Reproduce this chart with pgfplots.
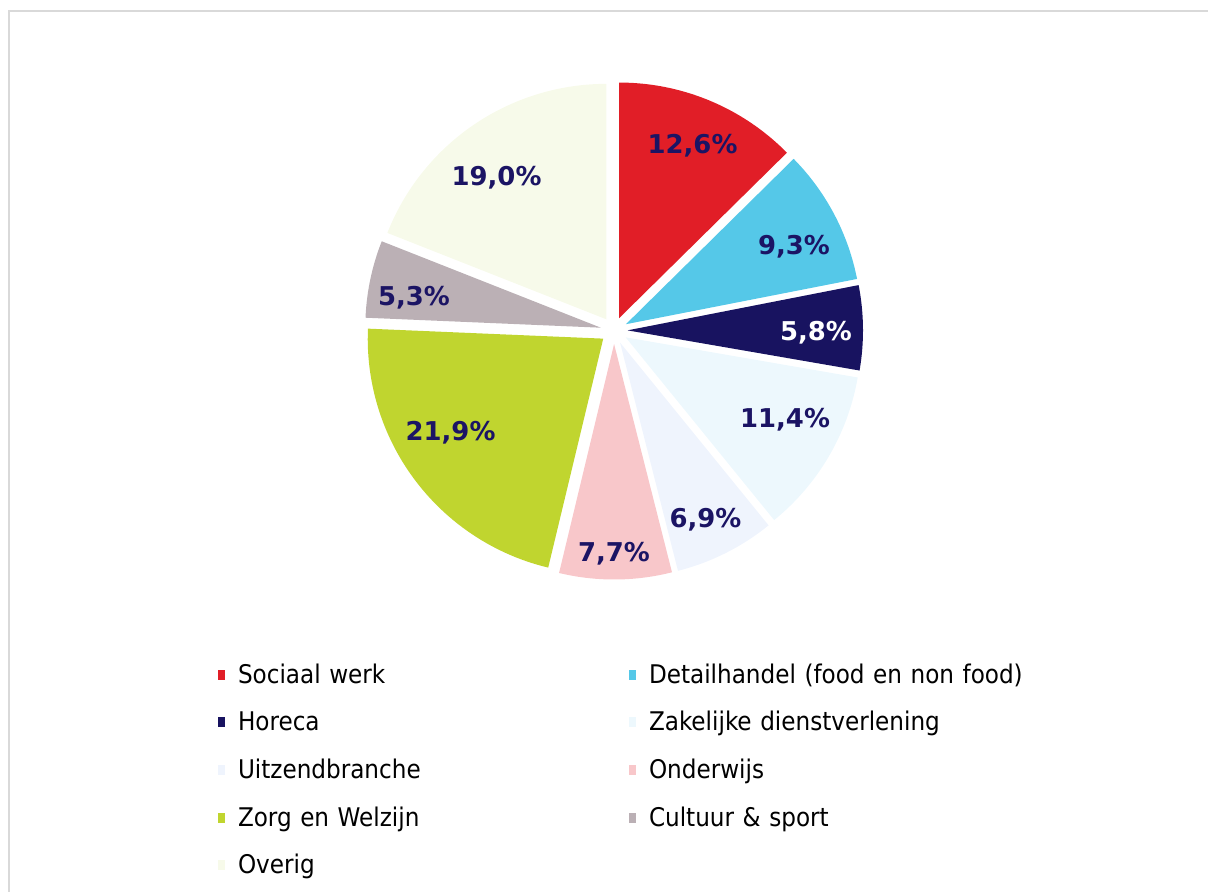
\documentclass[border=0pt]{standalone}
\usepackage{fontspec}
\setmainfont{DejaVu Sans}
\newfontfamily\condfont{DejaVu Sans Condensed}
\usepackage{pgfplots}
\pgfplotsset{compat=1.18}

\definecolor{cSoc}{HTML}{E11E27}
\definecolor{cDet}{HTML}{55C8E8}
\definecolor{cHor}{HTML}{181360}
\definecolor{cZak}{HTML}{EDF8FD}
\definecolor{cUit}{HTML}{EFF4FD}
\definecolor{cOnd}{HTML}{F8C7CA}
\definecolor{cZor}{HTML}{C0D52F}
\definecolor{cCul}{HTML}{BBB0B5}
\definecolor{cOve}{HTML}{F7FAEA}
\definecolor{cTxt}{HTML}{1B1464}
\definecolor{cFrame}{HTML}{D9D9D9}

\def\cx{614}
\def\cy{330.5}
\def\R{235.5}
\def\ex{13.5}
\def\k{3.6036036}

% #1 = start (percent), #2 = value (percent), #3 = colour
\newcommand\slice[3]{%
  \pgfmathsetmacro\dA{#1-#2/58}%
  \pgfmathsetmacro\dB{#1+#2}%
  \pgfmathsetmacro\th{#1-#2/116}%
  \pgfmathsetmacro\vx{\cx+\ex*sin(\k*(#1+#2/2))}%
  \pgfmathsetmacro\vy{\cy-\ex*cos(\k*(#1+#2/2))}%
  \addplot[fill=#3, draw=none, forget plot, domain=\dA:\dB, samples=60, variable=\t]
    ({\vx + ((\t < \th) ? 0 : \R*sin(\k*\t))},
     {\vy - ((\t < \th) ? 0 : \R*cos(\k*\t))});
}

\pgfplotsset{
  sqleg/.style={legend image code/.code={\fill[##1, draw=none] (0bp,-3bp) rectangle (7bp,7bp);}},
}

\begin{document}
\begin{tikzpicture}
\useasboundingbox (0,0) rectangle (1208bp,892bp);
\begin{axis}[
  at={(0,0)}, anchor=south west,
  width=1208bp, height=892bp, scale only axis,
  xmin=0, xmax=1208, ymin=0, ymax=892, y dir=reverse,
  hide axis, clip=false,
  legend columns=2,
  legend cell align=left,
  legend style={
    at={(axis cs:218,664)}, anchor=north west,
    draw=none, fill=none, inner sep=0pt, outer sep=0pt,
    font=\condfont\fontsize{25.8}{30}\selectfont,
    nodes={inner sep=0pt, outer sep=0pt, text width=380bp, align=left,
           text height=19bp, text depth=6bp},
    row sep=22.7bp,
    /tikz/every odd column/.append style={column sep=13bp},
    /tikz/every even column/.append style={column sep=11bp},
  },
]
% frame
\draw[cFrame, line width=2bp] (axis cs:8.5,892) -- (axis cs:8.5,11) -- (axis cs:1210,11);

% slices: start, value, colour
\slice{0}{12.6}{cSoc}
\slice{12.6}{9.3}{cDet}
\slice{21.9}{5.8}{cHor}
\slice{27.7}{11.4}{cZak}
\slice{39.1}{6.9}{cUit}
\slice{46.0}{7.7}{cOnd}
\slice{53.7}{21.9}{cZor}
\slice{75.6}{5.3}{cCul}
\slice{80.9}{19.0}{cOve}

% labels
\begin{scope}[every node/.style={font=\bfseries\fontsize{26}{26}\selectfont, text=cTxt, anchor=base, inner sep=0pt}]
\node at (axis cs:692.5,153.5) {12,6\%};
\node at (axis cs:794,254) {9,3\%};
\node[text=white] at (axis cs:816,340.5) {5,8\%};
\node at (axis cs:785,427.5) {11,4\%};
\node at (axis cs:705.5,527) {6,9\%};
\node at (axis cs:614,561) {7,7\%};
\node at (axis cs:450.5,440.5) {21,9\%};
\node at (axis cs:414,305.5) {5,3\%};
\node at (axis cs:496.5,185) {19,0\%};
\end{scope}

% legend
\addlegendimage{sqleg, fill=cSoc}\addlegendentry{Sociaal werk}
\addlegendimage{sqleg, fill=cDet}\addlegendentry{Detailhandel (food en non food)}
\addlegendimage{sqleg, fill=cHor}\addlegendentry{Horeca}
\addlegendimage{sqleg, fill=cZak}\addlegendentry{Zakelijke dienstverlening}
\addlegendimage{sqleg, fill=cUit}\addlegendentry{Uitzendbranche}
\addlegendimage{sqleg, fill=cOnd}\addlegendentry{Onderwijs}
\addlegendimage{sqleg, fill=cZor}\addlegendentry{Zorg en Welzijn}
\addlegendimage{sqleg, fill=cCul}\addlegendentry{Cultuur \& sport}
\addlegendimage{sqleg, fill=cOve}\addlegendentry{Overig}
\end{axis}
\end{tikzpicture}
\end{document}
